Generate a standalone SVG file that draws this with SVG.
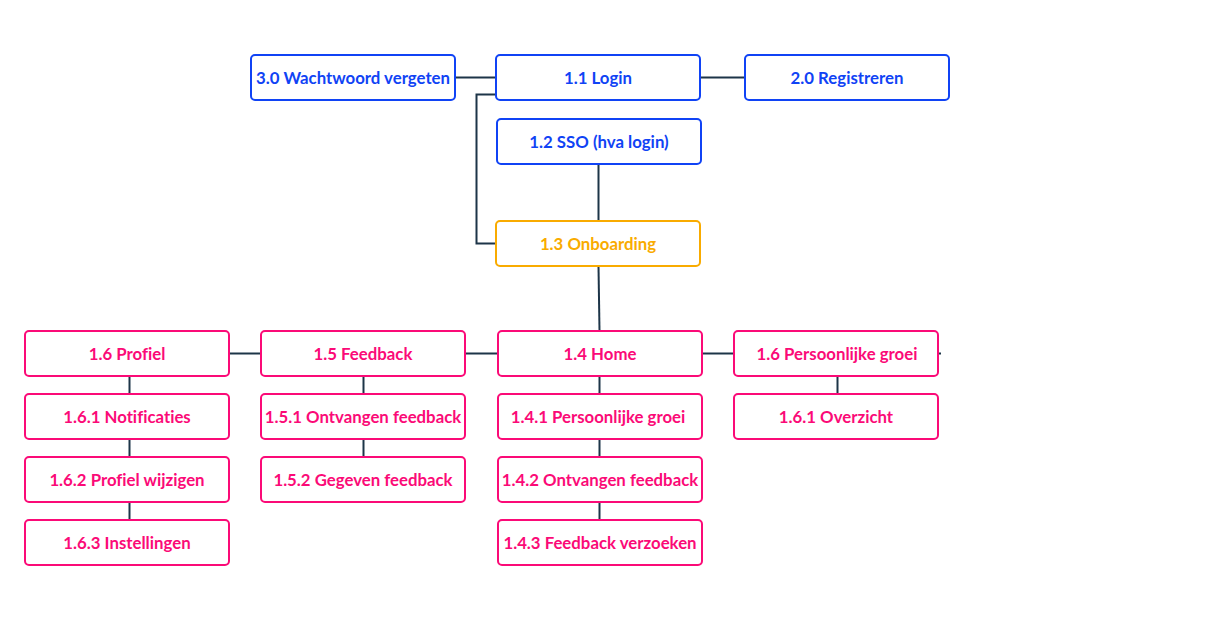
<svg xmlns="http://www.w3.org/2000/svg" width="1205" height="635" viewBox="0 0 1205 635">
<style>
.n rect{fill:#fff;stroke-width:2;}
.n text{font-family:Lato,"Noto Sans",sans-serif;font-weight:bold;font-size:16.8px;text-anchor:middle;dominant-baseline:central;font-variant-ligatures:none;}
.b rect{stroke:#1043f5}.b text{fill:#1043f5}
.o rect{stroke:#f9ab00}.o text{fill:#f9ab00}
.p rect{stroke:#fb0a77}.p text{fill:#fb0a77}
.c path,.c line{stroke:#1d3548;stroke-width:2;fill:none}
</style>
<rect width="1205" height="635" fill="#fff"/>
<g class="c" id="connectors">
<line x1="455" y1="77.5" x2="496" y2="77.5"/>
<line x1="700" y1="77.5" x2="745" y2="77.5"/>
<path d="M496,94.5 H476.5 V243.5 H496"/>
<line x1="598.5" y1="164" x2="598.5" y2="221"/>
<line x1="598.5" y1="266" x2="599.5" y2="331"/>
<line x1="229" y1="353.5" x2="261" y2="353.5"/>
<line x1="465" y1="353.5" x2="498" y2="353.5"/>
<line x1="702" y1="353.5" x2="734" y2="353.5"/>
<line x1="938" y1="353.5" x2="941" y2="353.5"/>
<line x1="129.5" y1="376" x2="129.5" y2="394"/>
<line x1="129.5" y1="439" x2="129.5" y2="457"/>
<line x1="129.5" y1="502" x2="129.5" y2="520"/>
<line x1="363.5" y1="376" x2="363.5" y2="394"/>
<line x1="363.5" y1="439" x2="363.5" y2="457"/>
<line x1="599.5" y1="376" x2="599.5" y2="394"/>
<line x1="599.5" y1="439" x2="599.5" y2="457"/>
<line x1="599.5" y1="502" x2="599.5" y2="520"/>
<line x1="837.5" y1="376" x2="837.5" y2="394"/>
</g>
<g id="n30" class="n b"><rect x="251" y="55" width="204" height="45" rx="4"/><text x="353" y="77.5">3.0 Wachtwoord vergeten</text></g>
<g id="n11" class="n b"><rect x="496" y="55" width="204" height="45" rx="4"/><text x="598" y="77.5">1.1 Login</text></g>
<g id="n20" class="n b"><rect x="745" y="55" width="204" height="45" rx="4"/><text x="847" y="77.5">2.0 Registreren</text></g>
<g id="n12" class="n b"><rect x="497" y="119" width="204" height="45" rx="4"/><text x="599" y="141.5">1.2 SSO (hva login)</text></g>
<g id="n13" class="n o"><rect x="496" y="221" width="204" height="45" rx="4"/><text x="598" y="243.5">1.3 Onboarding</text></g>
<g id="n16" class="n p"><rect x="25" y="331" width="204" height="45" rx="4"/><text x="127" y="353.5">1.6 Profiel</text></g>
<g id="n161" class="n p"><rect x="25" y="394" width="204" height="45" rx="4"/><text x="127" y="416.5">1.6.1 Notificaties</text></g>
<g id="n162" class="n p"><rect x="25" y="457" width="204" height="45" rx="4"/><text x="127" y="479.5">1.6.2 Profiel wijzigen</text></g>
<g id="n163" class="n p"><rect x="25" y="520" width="204" height="45" rx="4"/><text x="127" y="542.5">1.6.3 Instellingen</text></g>
<g id="n15" class="n p"><rect x="261" y="331" width="204" height="45" rx="4"/><text x="363" y="353.5">1.5 Feedback</text></g>
<g id="n151" class="n p"><rect x="261" y="394" width="204" height="45" rx="4"/><text x="363" y="416.5">1.5.1 Ontvangen feedback</text></g>
<g id="n152" class="n p"><rect x="261" y="457" width="204" height="45" rx="4"/><text x="363" y="479.5">1.5.2 Gegeven feedback</text></g>
<g id="n14" class="n p"><rect x="498" y="331" width="204" height="45" rx="4"/><text x="600" y="353.5">1.4 Home</text></g>
<g id="n141" class="n p"><rect x="498" y="394" width="204" height="45" rx="4"/><text x="598" y="416.5">1.4.1 Persoonlijke groei</text></g>
<g id="n142" class="n p"><rect x="498" y="457" width="204" height="45" rx="4"/><text x="600" y="479.5">1.4.2 Ontvangen feedback</text></g>
<g id="n143" class="n p"><rect x="498" y="520" width="204" height="45" rx="4"/><text x="600" y="542.5">1.4.3 Feedback verzoeken</text></g>
<g id="n16pg" class="n p"><rect x="734" y="331" width="204" height="45" rx="4"/><text x="837" y="353.5">1.6 Persoonlijke groei</text></g>
<g id="n161o" class="n p"><rect x="734" y="394" width="204" height="45" rx="4"/><text x="836" y="416.5">1.6.1 Overzicht</text></g>
</svg>
